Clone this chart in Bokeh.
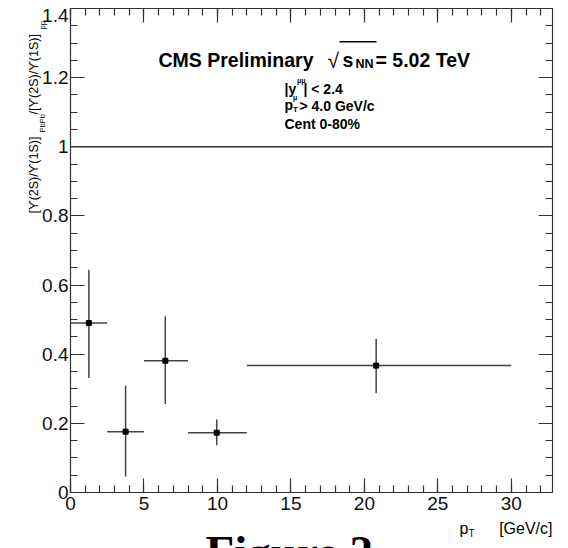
import math
from bokeh.plotting import figure
from bokeh.models import (LinearAxis, FixedTicker, NumeralTickFormatter,
                          Label, BoxAnnotation, ColumnDataSource, Range1d)
from bokeh.embed import file_html
from bokeh.resources import INLINE

# ---- data ----
pt = [1.25, 3.75, 6.45, 9.95, 20.8]          # bin centre (GeV/c)
pt_lo = [0.0, 2.5, 5.0, 8.0, 12.0]            # bin low edge
pt_hi = [2.5, 5.0, 8.0, 12.0, 30.0]           # bin high edge
ratio = [0.490, 0.176, 0.381, 0.173, 0.367]   # double ratio
err_hi = [0.154, 0.133, 0.129, 0.038, 0.078]
err_lo = [0.159, 0.130, 0.125, 0.036, 0.080]
reference_level = 1.0
x_lim = (0.0, 32.8)
y_lim = (0.0, 1.4)
x_ticks = [0, 5, 10, 15, 20, 25, 30]
x_minor = list(range(0, 33))
y_ticks = [0.0, 0.2, 0.4, 0.6, 0.8, 1.0, 1.2, 1.4]
y_minor = [round(0.05 * i, 2) for i in range(29)]

# ---- page geometry (pixels) ----
W, H = 568, 548
FL, FR, FT, FB = 70, 552, 8, 492   # plot box edges
kx = (FR - FL) / (x_lim[1] - x_lim[0])
ky = (FB - FT) / (y_lim[1] - y_lim[0])
x_view = (x_lim[0] - FL / kx, x_lim[1] + (W - FR) / kx)
y_view = (y_lim[0] - (H - FB) / ky, y_lim[1] + FT / ky)

src = ColumnDataSource(dict(
    pt=pt, lo=pt_lo, hi=pt_hi, ratio=ratio,
    ytop=[r + e for r, e in zip(ratio, err_hi)],
    ybot=[r - e for r, e in zip(ratio, err_lo)],
))

FONT = "Liberation Sans"
AX = "#333333"

p = figure(width=W, height=H, x_range=Range1d(*x_view), y_range=Range1d(*y_view),
           output_backend="svg", toolbar_location=None, min_border=0,
           x_axis_type=None, y_axis_type=None)
p.background_fill_color = "white"
p.border_fill_color = "white"
p.outline_line_color = None
p.grid.visible = False

xt = FixedTicker(ticks=x_ticks, minor_ticks=x_minor)
yt = FixedTicker(ticks=y_ticks, minor_ticks=y_minor)


def make_axis(ticker, loc, bounds, show_labels):
    ax = LinearAxis(ticker=ticker, fixed_location=loc, bounds=bounds)
    ax.major_tick_in = 14
    ax.major_tick_out = 0
    ax.minor_tick_in = 7
    ax.minor_tick_out = 0
    ax.major_tick_line_color = AX
    ax.minor_tick_line_color = AX
    ax.axis_line_color = AX
    ax.major_tick_line_width = 1.2
    ax.minor_tick_line_width = 1.2
    ax.axis_line_width = 1.2
    ax.major_label_text_font = FONT
    ax.major_label_text_font_size = "19px"
    ax.major_label_text_color = "#111111" if show_labels else None
    if not show_labels:
        ax.major_label_text_font_size = "0px"
    return ax


xa = make_axis(xt, y_lim[0], x_lim, True)
xa.major_label_standoff = 4
p.add_layout(xa, "below")

ya = make_axis(yt, x_lim[0], y_lim, True)
ya.formatter = NumeralTickFormatter(format="0.[0]")
ya.major_label_standoff = 2
ya.major_label_overrides = {1.4: "\u00a0\n1.4"}
ya.major_label_text_line_height = 0.2
p.add_layout(ya, "left")

p.add_layout(make_axis(xt, y_lim[1], x_lim, False), "above")
p.add_layout(make_axis(yt, x_lim[1], y_lim, False), "right")

# reference line at 1 across the plot box
p.line(x=list(x_lim), y=[reference_level, reference_level], line_color=AX, line_width=1.5)

# error bars and points
p.segment(x0="lo", y0="ratio", x1="hi", y1="ratio", source=src, line_color="#444444", line_width=1.5)
p.segment(x0="pt", y0="ybot", x1="pt", y1="ytop", source=src, line_color="#444444", line_width=1.5)
p.scatter(x="pt", y="ratio", source=src, marker="square", size=5, color="black")


# ---- texts (screen units; the frame is the whole page: sx = px, sy = H - py) ----
def lab(text, px, py, size, bold=False, angle=0.0, align="left", baseline="alphabetic", font=FONT):
    p.add_layout(Label(x=px, y=H - py, x_units="screen", y_units="screen", text=text,
                       text_font=font, text_font_size=f"{size}px",
                       text_font_style="bold" if bold else "normal",
                       text_color="black", angle=angle, text_align=align, text_baseline=baseline))


# header
lab("CMS Preliminary", 158, 59, 19.5, bold=True)
lab("\u221a", 327, 60, 21)
lab("s", 342, 59, 19.5, bold=True)
lab("NN", 355, 63, 12.5, bold=True)
lab("= 5.02 TeV", 375, 59, 19.5, bold=True)
p.add_layout(BoxAnnotation(left=339, right=376, top=H - 40.5, bottom=H - 42,
                           left_units="screen", right_units="screen",
                           top_units="screen", bottom_units="screen",
                           fill_color="black", fill_alpha=1.0, line_color=None))

# selection text
lab("|y", 284, 88, 14, bold=True)
lab("\u03bc\u03bc", 296.5, 80, 7, bold=True)
lab("| < 2.4", 303, 88, 14, bold=True)
lab("p", 284, 104, 14, bold=True)
lab("T", 292.5, 109, 8, bold=True)
lab("\u03bc", 292.5, 97, 7, bold=True)
lab("> 4.0 GeV/c", 299, 105, 14, bold=True)
lab("Cent 0-80%", 284, 123, 14, bold=True)

# y axis title (rotated, reads bottom to top)
UP = math.pi / 2
lab("[\u03d2(2S)/\u03d2(1S)]", 33, 213, 12.5, angle=UP, baseline="middle")
lab("PbPb", 42, 132, 7.5, angle=UP, baseline="middle")
lab("/[\u03d2(2S)/\u03d2(1S)]", 33, 114, 12.5, angle=UP, baseline="middle")
lab("pp", 42, 29, 7.5, angle=UP, baseline="middle")

# x axis title
lab("p", 459, 528, 16)
lab("T", 468, 533, 10)
lab("[GeV/c]", 552, 528, 16, align="right")

# caption below, cut by the page edge as in the reference (anchored by its top)
lab("Figure 2", 205, 525, 47, bold=True, font="Liberation Serif", baseline="top")

open("out.html", "w").write(file_html(p, INLINE))
